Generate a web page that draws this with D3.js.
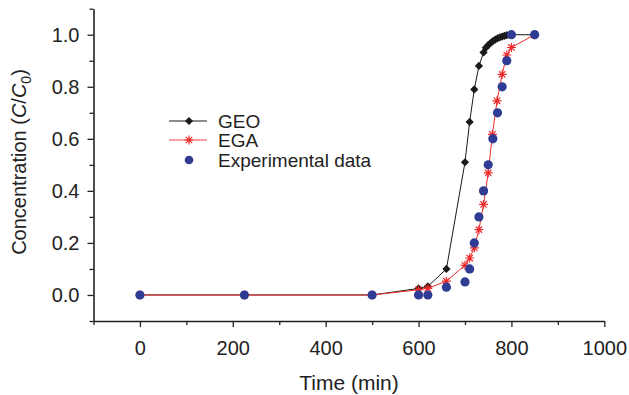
<!DOCTYPE html>
<html><head><meta charset="utf-8">
<script src="https://cdn.jsdelivr.net/npm/d3@7"></script>
<style>
html,body{margin:0;padding:0;background:#fff;}
svg text{font-family:"Liberation Sans",Arial,Helvetica,sans-serif;fill:#222;}
</style></head>
<body><svg id="c" width="629" height="395"></svg>
<script>
const geoTime = [0,225,500,600,620,660,700,710,720,730,740,745,750,755,760,765,770,775,780,785,790,800,850];
const geoConc = [0,0,0,0.025,0.033,0.1,0.51,0.665,0.79,0.88,0.932,0.95,0.96,0.968,0.975,0.981,0.986,0.99,0.993,0.996,0.998,1.0,1.0];
const egaTime = [0,225,500,600,620,660,700,710,720,730,740,750,759,769,780,790,800,850];
const egaConc = [0,0,0,0.02,0.025,0.053,0.114,0.142,0.181,0.251,0.348,0.469,0.617,0.746,0.848,0.922,0.951,1.0];
const expTime = [0,225,500,600,620,660,700,710,720,730,740,750,760,770,780,790,800,850];
const expConc = [0,0,0,0,0,0.03,0.05,0.1,0.2,0.3,0.4,0.5,0.6,0.7,0.8,0.9,1.0,1.0];
const xTicks = [0,200,400,600,800,1000];
const yTicks = [0.0,0.2,0.4,0.6,0.8,1.0];
const xMinor = [-100,100,300,500,700,900];
const yMinor = [-0.1,0.1,0.3,0.5,0.7,0.9,1.1];
const legendLabels = ["GEO","EGA","Experimental data"];

const svg = d3.select("#c");
const x = d3.scaleLinear().domain([-100,1000]).range([93.5,604.3]);
const y = d3.scaleLinear().domain([-0.1,1.1]).range([321,8.7]);
const axCol = "#222";

// axes
const gx = svg.append("g").attr("transform","translate(0,321)")
  .call(d3.axisBottom(x).tickValues(xTicks).tickSize(6).tickPadding(14).tickSizeOuter(0).tickFormat(d3.format("d")));
const gxm = svg.append("g").attr("transform","translate(0,321)")
  .call(d3.axisBottom(x).tickValues(xMinor).tickSize(4).tickSizeOuter(0).tickFormat(""));
gxm.select(".domain").remove();
const gy = svg.append("g").attr("transform","translate(93.5,0)")
  .call(d3.axisLeft(y).tickValues(yTicks).tickSize(6).tickPadding(8).tickSizeOuter(0).tickFormat(d3.format(".1f")));
const gym = svg.append("g").attr("transform","translate(93.5,0)")
  .call(d3.axisLeft(y).tickValues(yMinor).tickSize(4).tickSizeOuter(0).tickFormat(""));
gym.select(".domain").remove();
svg.selectAll(".domain").attr("stroke",axCol).attr("stroke-width",1.6);
svg.selectAll(".tick line").attr("stroke",axCol).attr("stroke-width",1.3);
svg.selectAll(".tick text").attr("font-size",20).attr("font-family","Liberation Sans, Arial, sans-serif").attr("fill","#222");

// titles
svg.append("text").attr("x",349).attr("y",390).attr("text-anchor","middle").attr("font-size",21).text("Time (min)");
const yl = svg.append("text").attr("transform","translate(26,162) rotate(-90)").attr("text-anchor","middle").attr("font-size",20);
yl.append("tspan").text("Concentration (");
yl.append("tspan").attr("font-style","italic").text("C");
yl.append("tspan").text("/");
yl.append("tspan").attr("font-style","italic").text("C");
yl.append("tspan").attr("font-size",14).attr("dy",5).text("0");
yl.append("tspan").attr("dy",-5).text(")");

const black = "#1a1a1a", red = "#ee2a2a", blue = "#2f3c94";
const line = d3.line().x(d=>x(d[0])).y(d=>y(d[1]));
const geo = geoTime.map((t,i)=>[t,geoConc[i]]);
const ega = egaTime.map((t,i)=>[t,egaConc[i]]);
const exp = expTime.map((t,i)=>[t,expConc[i]]);

function diamond(g,cx,cy){ g.append("path").attr("d",d3.symbol(d3.symbolSquare,34)()).attr("transform",`translate(${cx},${cy}) rotate(45)`).attr("fill",black); }
function aster(g,cx,cy){
  const r=4.5, s=r*0.7071;
  g.append("path").attr("d",`M${cx-r},${cy}H${cx+r}M${cx},${cy-r}V${cy+r}M${cx-s},${cy-s}L${cx+s},${cy+s}M${cx-s},${cy+s}L${cx+s},${cy-s}`)
   .attr("stroke",red).attr("stroke-width",1.2).attr("fill","none");
}

svg.append("path").datum(geo).attr("d",line).attr("fill","none").attr("stroke",black).attr("stroke-width",1);
const gg = svg.append("g");
geo.forEach(d=>diamond(gg,x(d[0]),y(d[1])));
svg.append("path").datum(ega).attr("d",line).attr("fill","none").attr("stroke",red).attr("stroke-width",1);
const ge = svg.append("g");
ega.forEach(d=>aster(ge,x(d[0]),y(d[1])));
svg.selectAll("circle.exp").data(exp).enter().append("circle").attr("class","exp")
  .attr("cx",d=>x(d[0])).attr("cy",d=>y(d[1])).attr("r",4.6).attr("fill",blue);

// legend
const lg = svg.append("g");
const ly = [121,140,160];
lg.append("line").attr("x1",169).attr("x2",207).attr("y1",ly[0]).attr("y2",ly[0]).attr("stroke",black).attr("stroke-width",1.2);
diamond(lg,189,ly[0]);
lg.append("line").attr("x1",169).attr("x2",207).attr("y1",ly[1]).attr("y2",ly[1]).attr("stroke","#f08080").attr("stroke-width",1.5);
aster(lg,189,ly[1]);
lg.append("circle").attr("cx",189).attr("cy",ly[2]).attr("r",4.3).attr("fill",blue);
legendLabels.forEach((t,i)=>lg.append("text").attr("x",218).attr("y",ly[i]+7).attr("font-size",19).text(t));
</script></body></html>
